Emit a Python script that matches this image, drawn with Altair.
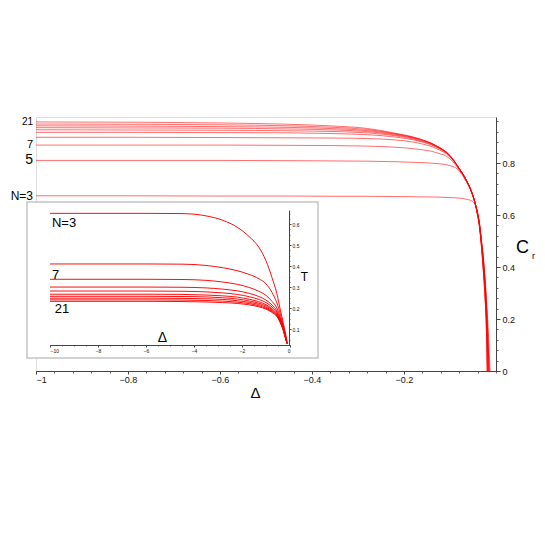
import altair as alt
import pandas as pd

N_LIST = [3, 5, 7, 9, 11, 13, 15, 17, 19, 21]

# ---- main panel: C_r versus Delta ----
main_delta = [-1.0, -0.8, -0.6, -0.45, -0.35, -0.28, -0.22, -0.17, -0.13, -0.1, -0.08, -0.065,
              -0.055, -0.047, -0.041, -0.036, -0.032, -0.028, -0.024, -0.021, -0.019, -0.017,
              -0.015, -0.013]

main_C = {
    21: [0.958, 0.957, 0.954, 0.949, 0.942, 0.933, 0.915, 0.895, 0.867, 0.829, 0.779, 0.735,
         0.696, 0.654, 0.608, 0.556, 0.486, 0.396, 0.286, 0.166, 0.0, None, None, None],
    19: [0.950, 0.949, 0.947, 0.943, 0.937, 0.929, 0.913, 0.894, 0.866, 0.828, 0.779, 0.735,
         0.697, 0.655, 0.609, 0.557, 0.487, 0.398, 0.289, 0.171, 0.0, None, None, None],
    17: [0.943, 0.942, 0.940, 0.937, 0.932, 0.925, 0.911, 0.893, 0.866, 0.828, 0.779, 0.736,
         0.697, 0.655, 0.610, 0.558, 0.489, 0.401, 0.293, 0.176, 0.0, None, None, None],
    15: [0.936, 0.935, 0.934, 0.931, 0.927, 0.921, 0.908, 0.891, 0.865, 0.828, 0.779, 0.736,
         0.698, 0.656, 0.611, 0.561, 0.496, 0.416, 0.316, 0.216, 0.126, 0.0, None, None],
    13: [0.928, 0.927, 0.926, 0.924, 0.921, 0.916, 0.905, 0.888, 0.863, 0.827, 0.779, 0.736,
         0.698, 0.656, 0.611, 0.561, 0.497, 0.417, 0.318, 0.218, 0.128, 0.0, None, None],
    11: [0.918, 0.918, 0.917, 0.916, 0.913, 0.909, 0.900, 0.885, 0.861, 0.826, 0.778, 0.736,
         0.698, 0.656, 0.612, 0.562, 0.498, 0.419, 0.321, 0.221, 0.131, 0.0, None, None],
    9: [0.899, 0.899, 0.898, 0.897, 0.896, 0.894, 0.889, 0.877, 0.856, 0.823, 0.777, 0.735,
        0.698, 0.657, 0.613, 0.566, 0.501, 0.436, 0.346, 0.256, 0.186, 0.096, 0.0, None],
    7: [0.869, 0.869, 0.869, 0.868, 0.867, 0.865, 0.861, 0.853, 0.840, 0.816, 0.774, 0.733,
        0.697, 0.657, 0.614, 0.567, 0.503, 0.438, 0.348, 0.258, 0.188, 0.098, 0.0, None],
    5: [0.810, 0.810, 0.810, 0.809, 0.808, 0.807, 0.805, 0.802, 0.798, 0.790, 0.770, 0.729,
        0.695, 0.656, 0.614, 0.568, 0.505, 0.440, 0.351, 0.261, 0.191, 0.101, 0.0, None],
    3: [0.674, 0.674, 0.673, 0.673, 0.672, 0.672, 0.671, 0.670, 0.669, 0.667, 0.665, 0.661,
        0.656, 0.646, 0.618, 0.571, 0.511, 0.446, 0.366, 0.286, 0.226, 0.166, 0.086, 0.0],
}

# ---- inset: T versus Delta ----
inset_delta = [-10, -8, -6, -4.5, -3.5, -2.8, -2.2, -1.7, -1.3, -1.0, -0.75, -0.55, -0.4,
               -0.28, -0.18, -0.12]

inset_T = {
    3: [0.651, 0.651, 0.651, 0.650, 0.639, 0.618, 0.585, 0.540, 0.490, 0.425, 0.345, 0.270,
        0.190, 0.130, 0.075, 0.040],
    5: [0.410, 0.410, 0.410, 0.409, 0.403, 0.392, 0.378, 0.360, 0.340, 0.315, 0.275, 0.225,
        0.170, 0.115, 0.065, 0.035],
    7: [0.337, 0.337, 0.337, 0.336, 0.332, 0.324, 0.313, 0.298, 0.280, 0.260, 0.232, 0.200,
        0.155, 0.110, 0.062, 0.033],
    9: [0.300, 0.300, 0.300, 0.299, 0.296, 0.290, 0.282, 0.270, 0.255, 0.238, 0.215, 0.187,
        0.148, 0.105, 0.060, 0.032],
    11: [0.281, 0.281, 0.281, 0.280, 0.277, 0.272, 0.265, 0.254, 0.241, 0.226, 0.205, 0.180,
         0.143, 0.102, 0.058, 0.031],
    13: [0.266, 0.266, 0.266, 0.265, 0.262, 0.258, 0.252, 0.242, 0.230, 0.216, 0.197, 0.174,
         0.139, 0.100, 0.057, 0.031],
    15: [0.256, 0.256, 0.256, 0.255, 0.253, 0.249, 0.243, 0.234, 0.223, 0.210, 0.192, 0.170,
         0.136, 0.098, 0.056, 0.030],
    17: [0.247, 0.247, 0.247, 0.246, 0.244, 0.241, 0.235, 0.227, 0.217, 0.204, 0.187, 0.166,
         0.133, 0.096, 0.055, 0.030],
    19: [0.239, 0.239, 0.239, 0.238, 0.236, 0.233, 0.228, 0.221, 0.211, 0.199, 0.183, 0.163,
         0.131, 0.095, 0.054, 0.030],
    21: [0.232, 0.232, 0.232, 0.231, 0.229, 0.226, 0.222, 0.215, 0.206, 0.195, 0.179, 0.160,
         0.129, 0.094, 0.054, 0.030],
}

# curve labels
main_label_N = [21, 7, 5, 3]
main_label_text = ["21", "7", "5", "N=3"]
main_label_size = [10, 11, 14, 12]

inset_label_text = ["N=3", "7", "21"]
inset_label_delta = [-9.92, -9.92, -9.8]
inset_label_T = [0.605, 0.357, 0.195]

main_x_ticks = [-1, -0.8, -0.6, -0.4, -0.2]
main_y_ticks = [0, 0.2, 0.4, 0.6, 0.8]
main_x_minor = [round(-1 + 0.04 * i, 2) for i in range(26)]
main_y_minor = [round(0.04 * i, 2) for i in range(25)]
inset_x_ticks = [-10, -8, -6, -4, -2, 0]
inset_y_ticks = [0.1, 0.2, 0.3, 0.4, 0.5, 0.6]
inset_x_minor = [round(-10 + 0.5 * i, 1) for i in range(21)]
inset_y_minor = [round(0.05 + 0.025 * i, 3) for i in range(25)]

FONT = "Liberation Sans"
W, H = 460, 254

main_df = pd.DataFrame([
    {"delta": d, "C": c, "N": n}
    for n in N_LIST for d, c in zip(main_delta, main_C[n]) if c is not None
])
inset_df = pd.DataFrame([
    {"delta": d, "T": t, "N": n}
    for n in N_LIST for d, t in zip(inset_delta, inset_T[n])
])
main_lab_df = pd.DataFrame({
    "delta": [main_delta[0]] * len(main_label_N),
    "C": [main_C[n][0] for n in main_label_N],
    "text": main_label_text,
    "fs": main_label_size,
})
inset_lab_df = pd.DataFrame({
    "delta": inset_label_delta,
    "T": inset_label_T,
    "text": inset_label_text,
})


def sx_main():
    return alt.Scale(domain=[-1, 0], nice=False, zero=False)


def sy_main():
    return alt.Scale(domain=[0, 0.977], nice=False, zero=False)


def sx_in():
    return alt.Scale(domain=[-10, 0], range=[14, 254], nice=False, zero=False)


def sy_in():
    return alt.Scale(domain=[0.024, 0.667], range=[228, 93], nice=False, zero=False)


axis_common = dict(grid=False, domainColor="#444", tickColor="#444", labelColor="#111",
                   labelFont=FONT, titleFont=FONT, titleFontWeight="normal", titleColor="#000")

main_lines = alt.Chart(main_df).mark_line(
    color="#ff0000", strokeWidth=0.8, opacity=0.72, interpolate="monotone"
).encode(
    x=alt.X("delta:Q", scale=sx_main(), axis=alt.Axis(
        values=main_x_ticks, format="~g", orient="bottom", title="Δ",
        tickSize=3, labelPadding=1, labelFontSize=9, titleFontSize=15,
        titleX=219, titleY=21, titleAlign="center", titleBaseline="middle", **axis_common)),
    y=alt.Y("C:Q", scale=sy_main(), axis=alt.Axis(
        values=main_y_ticks, format="~g", orient="right", title="C", titleAngle=0,
        tickSize=4, labelPadding=2, labelFontSize=9, titleFontSize=18,
        titleX=26, titleY=130, titleAlign="center", titleBaseline="middle", **axis_common)),
    detail="N:N",
)

# minor ticks of the main axes (invisible marks carrying extra tick-only axes)
main_minor = alt.Chart(main_df).mark_point(opacity=0).encode(
    x=alt.X("delta:Q", scale=sx_main(), axis=alt.Axis(
        values=main_x_minor, labels=False, domain=False, grid=False, tickSize=2,
        tickColor="#666", orient="bottom", title=None)),
    y=alt.Y("C:Q", scale=sy_main(), axis=alt.Axis(
        values=main_y_minor, labels=False, domain=False, grid=False, tickSize=2,
        tickColor="#666", orient="right", title=None)),
)

main_labels = alt.Chart(main_lab_df).mark_text(
    align="right", baseline="middle", dx=-3, font=FONT, color="#000"
).encode(
    x=alt.X("delta:Q", scale=sx_main(), axis=None),
    y=alt.Y("C:Q", scale=sy_main(), axis=None),
    text="text:N",
    size=alt.Size("fs:Q", scale=None, legend=None),
)

inset_lines = alt.Chart(inset_df).mark_line(
    color="#ff0000", strokeWidth=1, opacity=0.95, interpolate="monotone"
).encode(
    x=alt.X("delta:Q", scale=sx_in(), axis=alt.Axis(
        values=inset_x_ticks, format="d", orient="bottom", offset=-26, title="Δ",
        tickSize=2, labelPadding=1, labelFontSize=5, titleFontSize=14,
        titleX=126, titleY=-8, titleAlign="center", titleBaseline="middle", zindex=1,
        **axis_common)),
    y=alt.Y("T:Q", scale=sy_in(), axis=alt.Axis(
        values=inset_y_ticks, format=".1f", orient="right", offset=-207, title="T",
        titleAngle=0, tickSize=2, labelPadding=1, labelFontSize=5, titleFontSize=12,
        titleX=15, titleY=159, titleAlign="center", titleBaseline="middle", zindex=1,
        **axis_common)),
    detail="N:N",
)

inset_minor = alt.Chart(inset_df).mark_point(opacity=0).encode(
    x=alt.X("delta:Q", scale=sx_in(), axis=alt.Axis(
        values=inset_x_minor, labels=False, domain=False, grid=False, tickSize=1,
        tickColor="#777", orient="bottom", offset=-26, title=None, zindex=1)),
    y=alt.Y("T:Q", scale=sy_in(), axis=alt.Axis(
        values=inset_y_minor, labels=False, domain=False, grid=False, tickSize=1,
        tickColor="#777", orient="right", offset=-207, title=None, zindex=1)),
)

inset_labels = alt.Chart(inset_lab_df).mark_text(
    align="left", baseline="middle", font=FONT, fontSize=13, color="#000"
).encode(
    x=alt.X("delta:Q", scale=sx_in(), axis=None),
    y=alt.Y("T:Q", scale=sy_in(), axis=None),
    text="text:N",
)

box = alt.Chart(alt.Data(values=[{"k": 1}])).mark_rect(
    fill="white", stroke="#c4c4c4", strokeWidth=1.5
).encode(
    x=alt.value(-9), x2=alt.value(282), y=alt.value(85), y2=alt.value(241)
)

sub_r = alt.Chart(alt.Data(values=[{"k": 1}])).mark_text(
    text="r", font=FONT, fontSize=9, align="left", baseline="middle", color="#000"
).encode(x=alt.value(496), y=alt.value(139))

chart = alt.layer(
    box, main_minor, main_lines, main_labels, inset_minor, inset_lines, inset_labels, sub_r
).resolve_scale(
    x="independent", y="independent"
).resolve_axis(
    x="independent", y="independent"
).properties(
    width=W, height=H,
    padding={"left": 28, "top": 109, "right": 41, "bottom": 40},
    autosize=alt.AutoSizeParams(type="none"),
).configure_view(strokeWidth=0, stroke="transparent").configure(background="white")

chart.save("out.html", embed_options={"renderer": "svg", "actions": False})
